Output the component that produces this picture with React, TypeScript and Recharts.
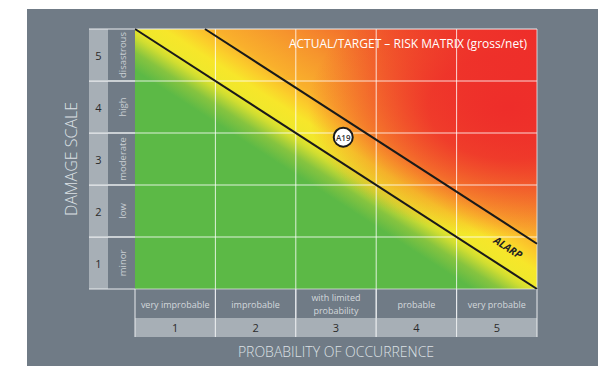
import React from 'react';
import {
  ComposedChart,
  XAxis,
  YAxis,
  ReferenceArea,
  ReferenceLine,
  Scatter,
  Label,
} from 'recharts';

const probabilityLabels = ['very improbable', 'improbable', 'with limited\nprobability', 'probable', 'very probable'];
const probabilityScores = ['1', '2', '3', '4', '5'];
const damageLabels = ['minor', 'low', 'moderate', 'high', 'disastrous'];
const damageScores = ['1', '2', '3', '4', '5'];
const cellCenters = [0.5, 1.5, 2.5, 3.5, 4.5];
const gridBounds = [1, 2, 3, 4];

// ALARP band limits (probability, damage)
const alarpLower = [{ x: 0, y: 5 }, { x: 5, y: 0 }];
const alarpUpper = [{ x: 0.87, y: 5 }, { x: 5, y: 0.87 }];
const risks = [{ x: 2.59, y: 2.92, name: 'A19' }];
const alarpTag = [{ x: 4.64, y: 0.8, name: 'ALARP' }];

const W = 598;
const H = 366;
const MARGIN = { top: 29, right: 61, bottom: 29, left: 89 };
const LVL_W = 27; // rotated damage names
const NUM_W = 19; // damage score column
const CAT_H = 29; // probability names
const NUM_H = 19; // probability score row
const PLOT_W = W - MARGIN.left - MARGIN.right - LVL_W - NUM_W;
const PLOT_H = H - MARGIN.top - MARGIN.bottom - CAT_H - NUM_H;
const CELL_W = PLOT_W / 5;
const CELL_H = PLOT_H / 5;

const PANEL = '#707b86';
const LIGHT = '#a7afb6';
const EDGE = '#e9ecee';
const FONT = '"Open Sans", sans-serif';

const DamageTick = (props: any) => {
  const { x, y, payload } = props;
  const i = Math.floor(payload.value);
  const left = x - LVL_W - NUM_W;
  const top = y - CELL_H / 2;
  return (
    <g>
      <rect x={left} y={top} width={NUM_W} height={CELL_H} fill={LIGHT} />
      <line x1={left} x2={x} y1={top} y2={top} stroke={EDGE} />
      <line x1={left} x2={x} y1={top + CELL_H} y2={top + CELL_H} stroke={EDGE} />
      <text x={left + NUM_W / 2} y={y} textAnchor="middle" dominantBaseline="central" fill="#2b2b2b" fontSize={11} fontFamily={FONT}>
        {damageScores[i]}
      </text>
      <text
        transform={`translate(${x - LVL_W / 2 + 1},${y}) rotate(-90)`}
        textAnchor="middle"
        dominantBaseline="central"
        fill="#c9ced3"
        fontSize={9.5}
        fontFamily={FONT}
      >
        {damageLabels[i]}
      </text>
    </g>
  );
};

const ProbabilityTick = (props: any) => {
  const { x, y, payload } = props;
  const i = Math.floor(payload.value);
  const lines = probabilityLabels[i].split('\n');
  const left = x - CELL_W / 2;
  const right = x + CELL_W / 2;
  return (
    <g>
      <rect x={left} y={y + CAT_H} width={CELL_W} height={NUM_H} fill={LIGHT} />
      <line x1={left} x2={left} y1={y} y2={y + CAT_H + NUM_H} stroke={EDGE} />
      <line x1={right} x2={right} y1={y} y2={y + CAT_H + NUM_H} stroke={EDGE} />
      <text textAnchor="middle" fill="#d3d8dc" fontSize={9} fontFamily={FONT}>
        {lines.map((t, k) => (
          <tspan key={k} x={x} y={y + CAT_H / 2 + 4 + (k - (lines.length - 1) / 2) * 12.5}>
            {t}
          </tspan>
        ))}
      </text>
      <text x={x} y={y + CAT_H + NUM_H / 2} textAnchor="middle" dominantBaseline="central" fill="#2b2b2b" fontSize={11} fontFamily={FONT}>
        {probabilityScores[i]}
      </text>
    </g>
  );
};

const RiskBadge = (props: any) => {
  const { cx, cy, payload } = props;
  return (
    <g>
      <circle cx={cx} cy={cy} r={9.5} fill="#fff" stroke="#1a1a1a" strokeWidth={2} />
      <text x={cx} y={cy} textAnchor="middle" dominantBaseline="central" fill="#333" fontSize={8} fontWeight={600} fontFamily={FONT}>
        {payload.name}
      </text>
    </g>
  );
};

const AlarpText = (props: any) => {
  const { cx, cy, payload } = props;
  const angle = (Math.atan(CELL_H / CELL_W) * 180) / Math.PI;
  return (
    <text
      transform={`translate(${cx},${cy}) rotate(${angle})`}
      textAnchor="middle"
      dominantBaseline="central"
      fill="#222"
      fontSize={10.5}
      fontWeight={700}
      fontStyle="italic"
      fontFamily={FONT}
    >
      {payload.name}
    </text>
  );
};

const App: React.FC = () => {
  return (
    <div style={{ position: 'relative', width: W, height: H, background: '#fff' }}>
      <style>{'body{margin:0}'}</style>
      <div style={{ position: 'absolute', left: 27, top: 9, right: 0, bottom: 0, background: PANEL }} />
      <ComposedChart width={W} height={H} margin={MARGIN} style={{ position: 'absolute', left: 0, top: 0 }}>
        <defs>
          <linearGradient id="riskFill" x1="0" y1="1" x2="1" y2="0">
            <stop offset="0" stopColor="#5cb946" />
            <stop offset="0.42" stopColor="#5cb946" />
            <stop offset="0.455" stopColor="#86c43f" />
            <stop offset="0.485" stopColor="#cfdd31" />
            <stop offset="0.505" stopColor="#f0e82b" />
            <stop offset="0.535" stopColor="#f7e62a" />
            <stop offset="0.565" stopColor="#fbcd2b" />
            <stop offset="0.6" stopColor="#f9b02c" />
            <stop offset="0.68" stopColor="#f6942d" />
            <stop offset="0.78" stopColor="#f2692b" />
            <stop offset="0.88" stopColor="#ef432a" />
            <stop offset="1" stopColor="#ee2d2a" />
          </linearGradient>
          <radialGradient id="riskHeat" cx="0.93" cy="0.3" r="0.5">
            <stop offset="0" stopColor="#ee2d2a" stopOpacity={1} />
            <stop offset="0.4" stopColor="#ee2d2a" stopOpacity={0.85} />
            <stop offset="1" stopColor="#ee2d2a" stopOpacity={0} />
          </radialGradient>
        </defs>
        <XAxis
          dataKey="x"
          type="number"
          domain={[0, 5]}
          ticks={cellCenters}
          interval={0}
          height={CAT_H + NUM_H}
          axisLine={false}
          tickLine={false}
          tickSize={0}
          tickMargin={0}
          tick={ProbabilityTick}
        >
          <Label
            content={({ viewBox }: any) => (
              <text
                x={viewBox.x + viewBox.width / 2}
                y={viewBox.y + viewBox.height + 20}
                textAnchor="middle"
                fill="#dde1e5"
                fontSize={14}
                fontWeight={300}
                fontFamily={FONT}
              >
                PROBABILITY OF OCCURRENCE
              </text>
            )}
          />
        </XAxis>
        <YAxis
          dataKey="y"
          type="number"
          domain={[0, 5]}
          ticks={cellCenters}
          interval={0}
          width={LVL_W + NUM_W}
          axisLine={false}
          tickLine={false}
          tickSize={0}
          tickMargin={0}
          tick={DamageTick}
        >
          <Label
            content={({ viewBox }: any) => (
              <text
                transform={`translate(${viewBox.x - 12},${viewBox.y + viewBox.height / 2}) rotate(-90)`}
                textAnchor="middle"
                fill="#dde1e5"
                fontSize={16}
                fontWeight={300}
                fontFamily={FONT}
              >
                DAMAGE SCALE
              </text>
            )}
          />
        </YAxis>
        <ReferenceArea x1={0} x2={5} y1={0} y2={5} fill="url(#riskFill)" fillOpacity={1} stroke="none" />
        <ReferenceArea
          x1={0}
          x2={5}
          y1={0}
          y2={5}
          fill="url(#riskHeat)"
          fillOpacity={1}
          stroke="none"
          label={{
            value: 'ACTUAL/TARGET – RISK MATRIX (gross/net)',
            position: 'insideTopRight',
            offset: 10,
            fill: '#fff',
            fontSize: 12,
            fontFamily: FONT,
          }}
        />
        {gridBounds.map((v) => (
          <ReferenceLine key={`gx${v}`} x={v} stroke="#fff" strokeOpacity={0.8} />
        ))}
        {gridBounds.map((v) => (
          <ReferenceLine key={`gy${v}`} y={v} stroke="#fff" strokeOpacity={0.8} />
        ))}
        <ReferenceLine y={5} stroke={EDGE} />
        <ReferenceLine y={0} stroke={EDGE} strokeOpacity={0.7} />
        <ReferenceLine x={5} stroke={EDGE} strokeOpacity={0.8} />
        <ReferenceLine segment={alarpLower} stroke="#1a1a1a" strokeWidth={2} />
        <ReferenceLine segment={alarpUpper} stroke="#1a1a1a" strokeWidth={2} />
        <Scatter data={alarpTag} shape={AlarpText} isAnimationActive={false} />
        <Scatter data={risks} shape={RiskBadge} isAnimationActive={false} />
      </ComposedChart>
    </div>
  );
};

export default App;
